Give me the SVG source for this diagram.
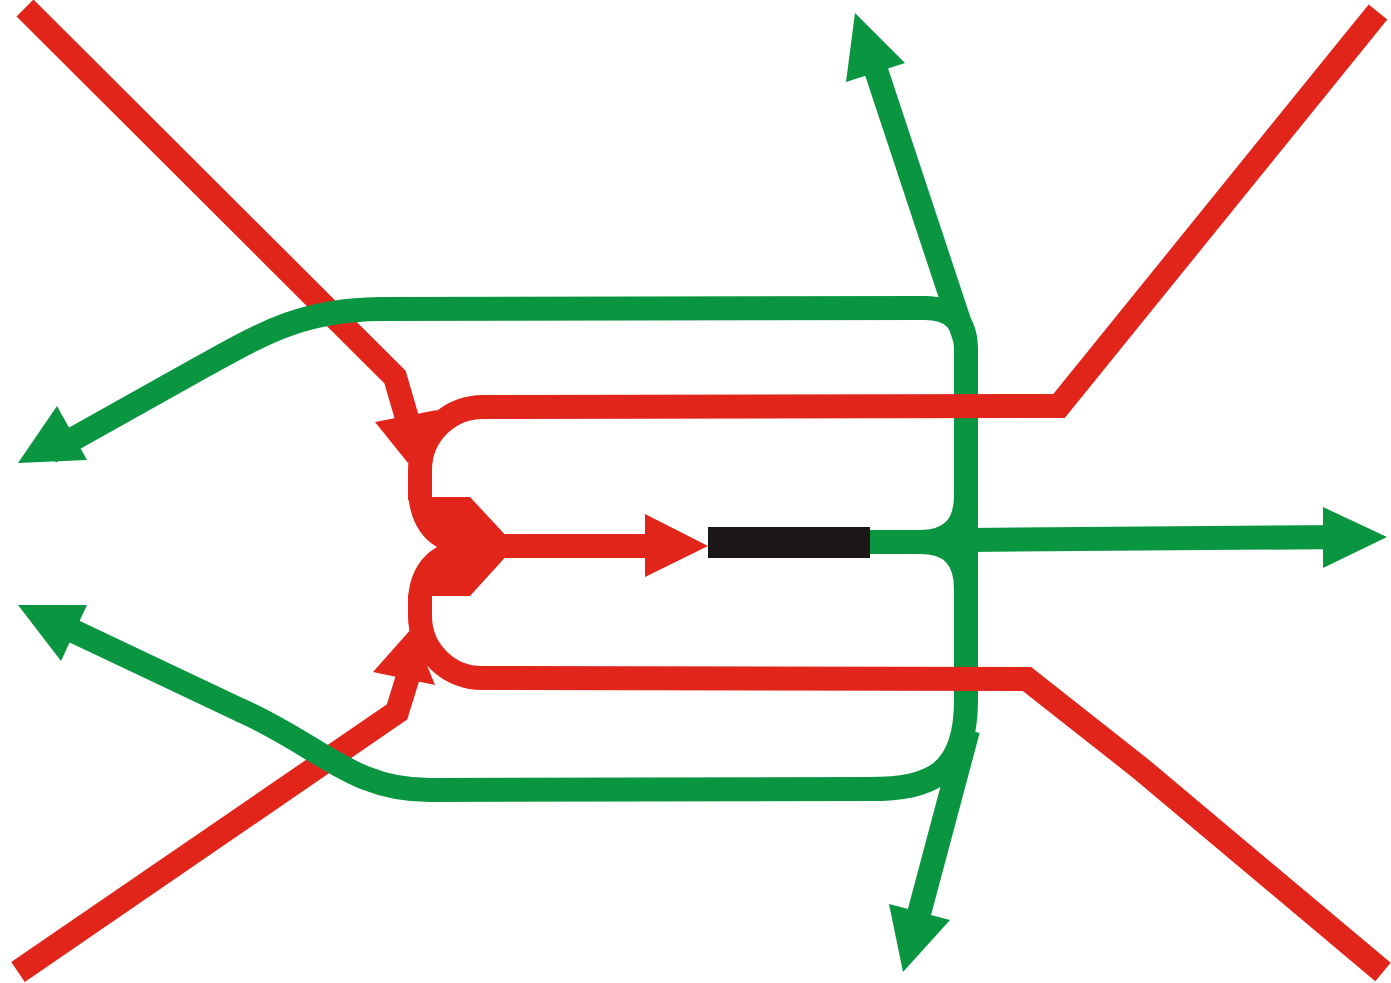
<svg xmlns="http://www.w3.org/2000/svg" width="1391" height="983" viewBox="0 0 1391 983">
<style>
.r{fill:none;stroke:#e1251b;stroke-width:24;stroke-linejoin:miter;stroke-linecap:butt}
.g{fill:none;stroke:#0a9640;stroke-width:24;stroke-linejoin:round;stroke-linecap:butt}
.rf{fill:#e1251b}
.gf{fill:#0a9640}
</style>
<rect width="1391" height="983" fill="#ffffff"/>
<g id="connectors">
  <g id="red-inputs">
    <path class="r" d="M25,8 L395,377 L409,425"/>
    <polygon class="rf" points="375,422 437,410 408,463"/>
    <path class="r" d="M18,972 L397,712 L410,670"/>
    <polygon class="rf" points="373,672 435,685 412,628"/>
  </g>
  <g id="green-lines">
    <path class="g" d="M50,452 L200,368 C262,334 300,310 380,309 L925,308 Q966,308 966,350 L966,700 C966,775 930,789 870,789 L430,790 C350,790 320,745 240,710 L50,620"/>
    <path class="g" d="M966,342 L870,52"/>
    <path class="g" d="M968,730 L912,940"/>
    <path class="g" d="M870,542 L920,542 Q966,542 966,495"/>
    <path class="g" d="M920,542 Q966,542 966,589"/>
    <path class="g" d="M966,540 L1350,537"/>
    <polygon class="gf" points="18,463 57,406 87,460"/>
    <polygon class="gf" points="18,605 87,605 61,661"/>
    <polygon class="gf" points="855,13 905,63 846,82"/>
    <polygon class="gf" points="889,904 950,920 903,972"/>
    <polygon class="gf" points="1323,507 1387,537 1323,568"/>
  </g>
  <g id="red-loops">
    <path class="r" d="M1378,12 L1059,406 L485,407 A63,63 0 0 0 420,470 L420,500"/>
    <path class="r" d="M1383,972 L1140,768 L1027,679 L484,678 A62,62 0 0 1 420,616 L420,595"/>
    <path class="r" d="M505,546 L660,546"/>
    <polygon class="rf" points="645,514 708,546 645,577"/>
  </g>
</g>
<g id="junction">
  <path class="rf" d="M408,488 C408,515 418,536 437,547 C418,558 408,578 408,604 L432,604 L432,596 L470,596 L510,552 L510,540 L470,497 L432,497 L432,488 Z"/>
</g>
<g id="bar">
  <rect x="708" y="527" width="162" height="31" fill="#1c1717"/>
</g>
</svg>
